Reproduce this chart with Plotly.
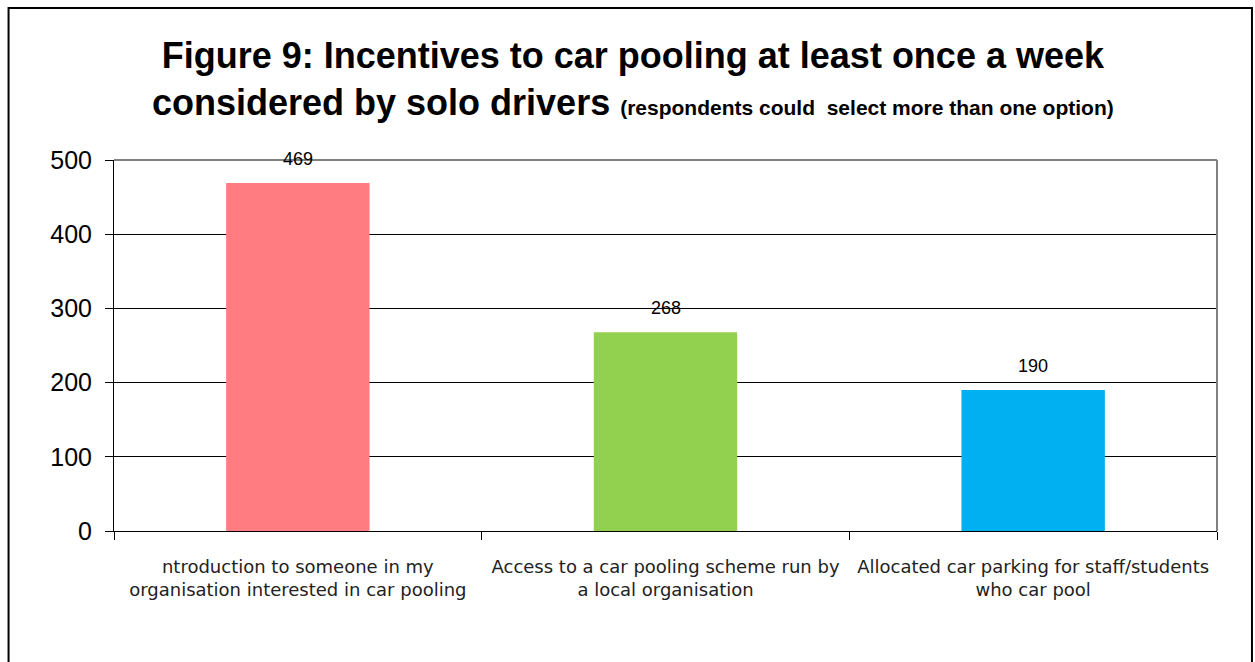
import plotly.graph_objects as go

# Survey results: incentives considered by solo drivers
categories = [
    "ntroduction to someone in my<br>organisation interested in car pooling",
    "Access to a car pooling scheme run by<br>a local organisation",
    "Allocated car parking for staff/students<br>who car pool",
]
values = [469, 268, 190]
bar_colors = ["#FF7C80", "#92D050", "#00B0F0"]
y_ticks = [0, 100, 200, 300, 400, 500]

fig = go.Figure()
fig.add_trace(go.Bar(
    x=categories,
    y=values,
    marker=dict(color=bar_colors, line=dict(width=0)),
    width=0.39,
    hoverinfo="x+y",
))

# Value labels above each bar
for cat, val in zip(categories, values):
    fig.add_annotation(
        x=cat, y=val, text=str(val), showarrow=False,
        yanchor="middle", yshift=24,
        font=dict(family="Liberation Sans, Arial", size=18, color="#000000"),
    )

# Two-line heading with a smaller note on the second line
fig.add_annotation(
    xref="paper", yref="paper", x=0.4705, y=1.218,
    xanchor="center", yanchor="middle", showarrow=False,
    text="<b>Figure 9: Incentives to car pooling at least once a week<br>"
         "considered by solo drivers <span style='font-size:21px'>(respondents could  select more than one option)</span></b>",
    font=dict(family="Liberation Sans, Arial", size=36, color="#000000"),
    align="center",
)

fig.update_layout(
    width=1255,
    height=662,
    margin=dict(l=114, r=38, t=160, b=131, autoexpand=False),
    paper_bgcolor="white",
    plot_bgcolor="white",
    showlegend=False,
    font=dict(family="Liberation Sans, Arial", color="#000000"),
    xaxis=dict(
        type="category",
        showgrid=False,
        showline=True,
        linecolor="#000000",
        linewidth=1,
        ticks="outside",
        tickson="boundaries",
        ticklen=8,
        tickcolor="#000000",
        tickangle=0,
        automargin=False,
        tickfont=dict(family="DejaVu Sans, Liberation Sans", size=18, color="#222222"),
        ticklabelstandoff=19,
        fixedrange=True,
    ),
    yaxis=dict(
        range=[0, 500],
        tickvals=y_ticks,
        showgrid=True,
        gridcolor="#000000",
        gridwidth=1,
        showline=True,
        linecolor="#000000",
        linewidth=1,
        ticks="outside",
        ticklen=8,
        tickcolor="#000000",
        automargin=False,
        tickfont=dict(family="Liberation Sans, Arial", size=25, color="#000000"),
        ticklabelstandoff=8,
        zeroline=False,
        fixedrange=True,
    ),
    bargap=0.61,
)

# Grey plot-area frame on the top and right edges
fig.add_shape(type="line", xref="paper", yref="paper", x0=0, x1=1, y0=1, y1=1,
              line=dict(color="#808080", width=2), layer="above")
fig.add_shape(type="line", xref="paper", yref="paper", x0=1, x1=1, y0=0, y1=1,
              line=dict(color="#808080", width=2), layer="above")

# Outer chart border
fig.add_shape(type="rect", xref="paper", yref="paper",
              x0=-0.0956, x1=1.0317, y0=-0.4, y1=1.4097,
              line=dict(color="#000000", width=2), fillcolor="rgba(0,0,0,0)",
              layer="above")

fig.write_html("out.html")
